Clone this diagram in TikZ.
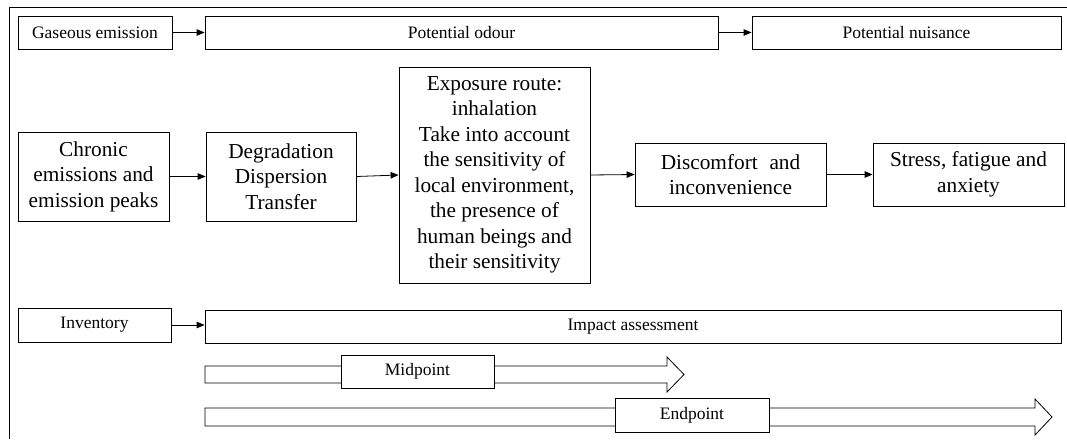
\documentclass[tikz,border=0pt]{standalone}
\usepackage{fontspec}
\setmainfont{Liberation Serif}
\usetikzlibrary{arrows.meta}
\tikzset{
  box/.style={draw, line width=0.8pt, inner sep=0pt, align=center, font=\fontsize{17.5}{21}\selectfont},
  bigbox/.style={draw, line width=0.8pt, inner sep=0pt, align=center, font=\fontsize{21.3}{25.5}\selectfont},
  conn/.style={-{Triangle[length=8pt,width=6.5pt]}, line width=0.8pt},
  fatarrow/.style={draw, line width=0.8pt, fill=white},
  frame/.style={line width=1pt}
}
\begin{document}
\begin{tikzpicture}[x=1pt,y=-1pt]
\useasboundingbox (0,0) rectangle (1067,439);
% outer frame (cropped)
\draw[frame] (9,439) -- (9,7) -- (1067,7);
% row 1
\node[box, minimum width=154pt, minimum height=33pt] (gas) at (95,32.5) {Gaseous emission};
\node[box, minimum width=513pt, minimum height=33pt] (odour) at (461.5,32.5) {Potential odour};
\node[box, minimum width=309pt, minimum height=33pt] (nuis) at (906.5,32.5) {Potential nuisance};
\draw[conn] (gas.east) -- (odour.west);
\draw[conn] (odour.east) -- (nuis.west);
% row 2
\node[bigbox, minimum width=151pt, minimum height=89pt] (chron) at (93.5,176.5) {Chronic\\emissions and\\emission peaks};
\node[bigbox, minimum width=150pt, minimum height=89pt] (deg) at (281,176.5) {Degradation\\Dispersion\\Transfer};
\node[bigbox, minimum width=191pt, minimum height=216pt] (expo) at (494.5,175) {Exposure route:\\inhalation\\Take into account\\the sensitivity of\\local environment,\\the presence of\\human beings and\\their sensitivity};
\node[bigbox, minimum width=191pt, minimum height=63pt] (disc) at (730.5,174.5) {Discomfort\hspace{0.3em} and\\inconvenience};
\node[bigbox, minimum width=191pt, minimum height=63pt] (stress) at (968.5,174.5) {Stress, fatigue and\\anxiety};
\draw[conn] (chron.east) -- (deg.west);
\draw[conn] (deg.east) -- (expo.west);
\draw[conn] (expo.east) -- (disc.west);
\draw[conn] (disc.east) -- (stress.west);
% row 3
\node[box, minimum width=153pt, minimum height=34pt] (inv) at (94.5,325) {Inventory};
\node[box, minimum width=856pt, minimum height=33pt] (imp) at (633,326.5) {Impact assessment};
\draw[conn] (inv.east) -- (inv.east -| imp.west);
% fat arrows
\draw[fatarrow] (205,366) -- (667,366) -- (667,357) -- (684,374.5) -- (667,392) -- (667,383) -- (205,383) -- cycle;
\node[box, fill=white, minimum width=153pt, minimum height=33pt] (mid) at (417.5,371.5) {Midpoint};
\draw[fatarrow] (205,408) -- (1035,408) -- (1035,399) -- (1052,417) -- (1035,435) -- (1035,426) -- (205,426) -- cycle;
\node[box, fill=white, minimum width=154pt, minimum height=34pt] (endp) at (692,415) {Endpoint};
\end{tikzpicture}
\end{document}
